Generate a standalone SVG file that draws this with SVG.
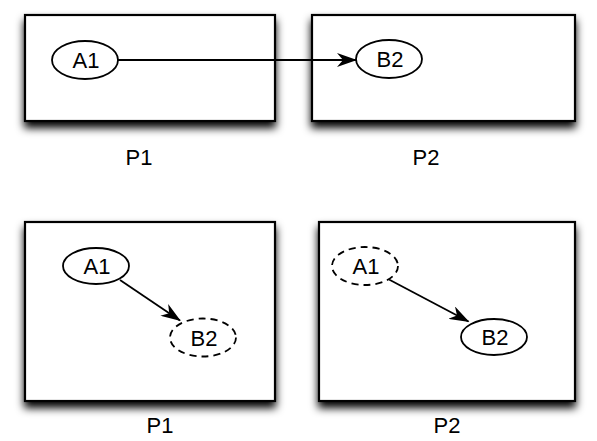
<svg xmlns="http://www.w3.org/2000/svg" width="597" height="441" viewBox="0 0 597 441">
<style>
.box{fill:#fff;stroke:#000;stroke-width:2.2;filter:url(#sh)}
.nd{fill:#fff;stroke:#000;stroke-width:1.8}
.dash{stroke-dasharray:7,5}
.t{font-family:"Liberation Sans",Arial,sans-serif;font-size:22px;text-anchor:middle;fill:#000}
.c{stroke:#000;stroke-width:1.8;fill:none;marker-end:url(#ah)}
</style>
<defs>
<filter id="sh" x="-10%" y="-10%" width="120%" height="140%">
<feGaussianBlur in="SourceAlpha" stdDeviation="4"/>
<feOffset dx="0" dy="6" result="b"/>
<feComponentTransfer><feFuncA type="linear" slope="1"/></feComponentTransfer>
<feMerge><feMergeNode/><feMergeNode in="SourceGraphic"/></feMerge>
</filter>
<marker id="ah" viewBox="0 0 20 14" refX="19" refY="7" markerWidth="20" markerHeight="14" markerUnits="userSpaceOnUse" orient="auto">
<path d="M0,0 L20,7 L0,14 L6,7 z" fill="#000"/>
</marker>
</defs>
<g id="p1-top">
<rect class="box" x="25" y="15" width="250" height="106"/>
<text class="t" x="139" y="165">P1</text>
</g>
<g id="p2-top">
<rect class="box" x="312" y="15" width="263" height="106"/>
<text class="t" x="426" y="165">P2</text>
</g>
<g id="p1-bottom">
<rect class="box" x="25" y="222" width="250" height="179"/>
<text class="t" x="160" y="433">P1</text>
</g>
<g id="p2-bottom">
<rect class="box" x="319" y="222" width="256" height="179"/>
<text class="t" x="447" y="433">P2</text>
</g>
<g id="a1-top"><ellipse class="nd" cx="85" cy="60" rx="33" ry="19"/><text class="t" x="86" y="68">A1</text></g>
<g id="b2-top"><ellipse class="nd" cx="389" cy="59" rx="33" ry="19"/><text class="t" x="390" y="67">B2</text></g>
<g id="a1-bl"><ellipse class="nd" cx="96" cy="266" rx="33" ry="18"/><text class="t" x="97" y="274">A1</text></g>
<g id="b2-bl"><ellipse class="nd dash" cx="203" cy="337.5" rx="33" ry="19"/><text class="t" x="204" y="345.5">B2</text></g>
<g id="a1-br"><ellipse class="nd dash" cx="365" cy="266" rx="33" ry="19"/><text class="t" x="366" y="274">A1</text></g>
<g id="b2-br"><ellipse class="nd" cx="494" cy="337" rx="33" ry="18"/><text class="t" x="495" y="345">B2</text></g>
<g id="connectors">
<line class="c" x1="118" y1="60" x2="356" y2="60"/>
<line class="c" x1="120" y1="280" x2="180" y2="320.5"/>
<line class="c" x1="389" y1="279.5" x2="468.5" y2="321.5"/>
</g>
</svg>
